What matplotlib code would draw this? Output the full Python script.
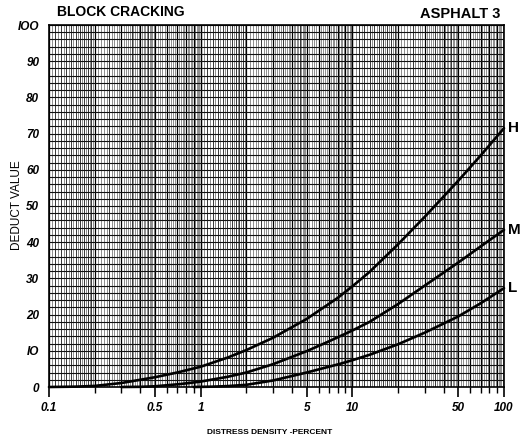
import numpy as np
import matplotlib
matplotlib.use("Agg")
import matplotlib.pyplot as plt

# ---- data ----
h_x = [0.1, 0.15, 0.2, 0.3, 0.4, 0.5, 0.7, 1, 1.5, 2, 3, 5, 8, 10, 13, 20, 30, 50, 70, 100]
h_y = [0, 0.1, 0.3, 1.1, 2.0, 2.7, 4.0, 5.6, 8.1, 10.2, 13.6, 18.8, 24.6, 27.8, 31.8, 39.4, 47.0, 57.0, 63.9, 71.5]

m_x = [0.3, 0.4, 0.5, 0.73, 1, 1.5, 2, 3, 5, 7, 10, 13, 20, 30, 50, 70, 100]
m_y = [0, 0.05, 0.2, 0.8, 1.5, 2.8, 4.0, 6.3, 9.9, 12.6, 15.6, 18.0, 22.9, 28.0, 34.4, 38.8, 43.4]

l_x = [0.9, 1.2, 1.5, 2, 3, 5, 8.3, 10, 13, 20, 30, 50, 70, 100]
l_y = [0, 0.1, 0.25, 0.6, 1.8, 4.0, 6.4, 7.4, 8.9, 11.8, 15.0, 19.5, 23.1, 27.3]

curve_labels = ["H", "M", "L"]
x_tick_vals = [0.1, 0.5, 1, 5, 10, 50, 100]
x_tick_text = ["0.1", "0.5", "1", "5", "10", "50", "100"]
y_tick_vals = [0, 10, 20, 30, 40, 50, 60, 70, 80, 90, 100]
y_tick_text = ["0", "IO", "20", "30", "40", "50", "60", "70", "80", "90", "IOO"]

title_left = "BLOCK CRACKING"
title_right = "ASPHALT 3"
xlabel = "DISTRESS DENSITY -PERCENT"
ylabel = "DEDUCT VALUE"

plt.rcParams['font.family'] = ['Liberation Sans', 'DejaVu Sans']

fig = plt.figure(figsize=(5.23, 4.41), dpi=100)
ax = fig.add_axes([49/523, 1-387/441, 455/523, 362/441])
ax.set_xscale('log')
ax.set_xlim(0.1, 100)
ax.set_ylim(0, 100)

# ---- log-paper grid ----
thin, med, major = [], [], []
for m in [0.1, 1, 10]:
    for v in np.arange(1.05, 2.0, 0.05):
        (med if abs(v*10 - round(v*10)) < 1e-6 else thin).append(v*m)
    for v in np.arange(2.1, 5.0, 0.1):
        (med if abs(v*2 - round(v*2)) < 1e-6 else thin).append(v*m)
    for v in np.arange(5.2, 10.0, 0.2):
        (med if abs(v*2 - round(v*2)) < 1e-6 else thin).append(v*m)
    for v in range(1, 11):
        major.append(v*m)
ax.vlines(thin, 0, 100, color='#505050', lw=0.45, zorder=1)
ax.vlines(med, 0, 100, color='#2a2a2a', lw=0.65, zorder=1)
ax.vlines(major, 0, 100, color='#000000', lw=0.9, zorder=2)
ax.hlines(np.arange(0, 101, 2), 0.1, 100, color='#111111', lw=0.8, zorder=2)

# ---- curves ----
for xs, ys, lab in [(h_x, h_y, curve_labels[0]), (m_x, m_y, curve_labels[1]), (l_x, l_y, curve_labels[2])]:
    ax.plot(xs, ys, color='black', lw=1.9, zorder=5, solid_capstyle='round', clip_on=False)
    ax.annotate(lab, xy=(xs[-1], ys[-1]), xytext=(3, 0), textcoords='offset points',
                ha='left', va='center', fontsize=11, fontweight='bold')

for s in ax.spines.values():
    s.set_linewidth(1.2)

ax.set_xticks(x_tick_vals)
ax.set_xticklabels(x_tick_text, fontsize=8.5, fontweight='bold', style='italic')
minor_ticks = [v*m for m in [0.1, 1, 10] for v in [2, 3, 4, 6, 7, 8, 9]]
ax.set_xticks(minor_ticks, minor=True)
ax.tick_params(axis='x', which='major', direction='out', length=7, width=1.2, pad=4)
ax.tick_params(axis='x', which='minor', direction='out', length=4, width=1.0, labelbottom=False)
ax.set_yticks(y_tick_vals)
ax.set_yticklabels(y_tick_text, fontsize=8.5, fontweight='bold', style='italic')
ax.tick_params(axis='y', which='both', length=0, pad=7)
ax.yaxis.set_minor_locator(matplotlib.ticker.NullLocator())

fig.text(57/523, 1-12/441, title_left, fontsize=10, fontweight='bold', ha='left', va='center')
fig.text(500/523, 1-14/441, title_right, fontsize=10.5, fontweight='bold', ha='right', va='center')
fig.text(270/523, 1-432/441, xlabel, fontsize=6, fontweight='bold', ha='center', va='center')
fig.text(17/523, 1-205/441, ylabel, fontsize=8.5, rotation=90, ha='center', va='center')

fig.savefig('out.png', dpi=100)
